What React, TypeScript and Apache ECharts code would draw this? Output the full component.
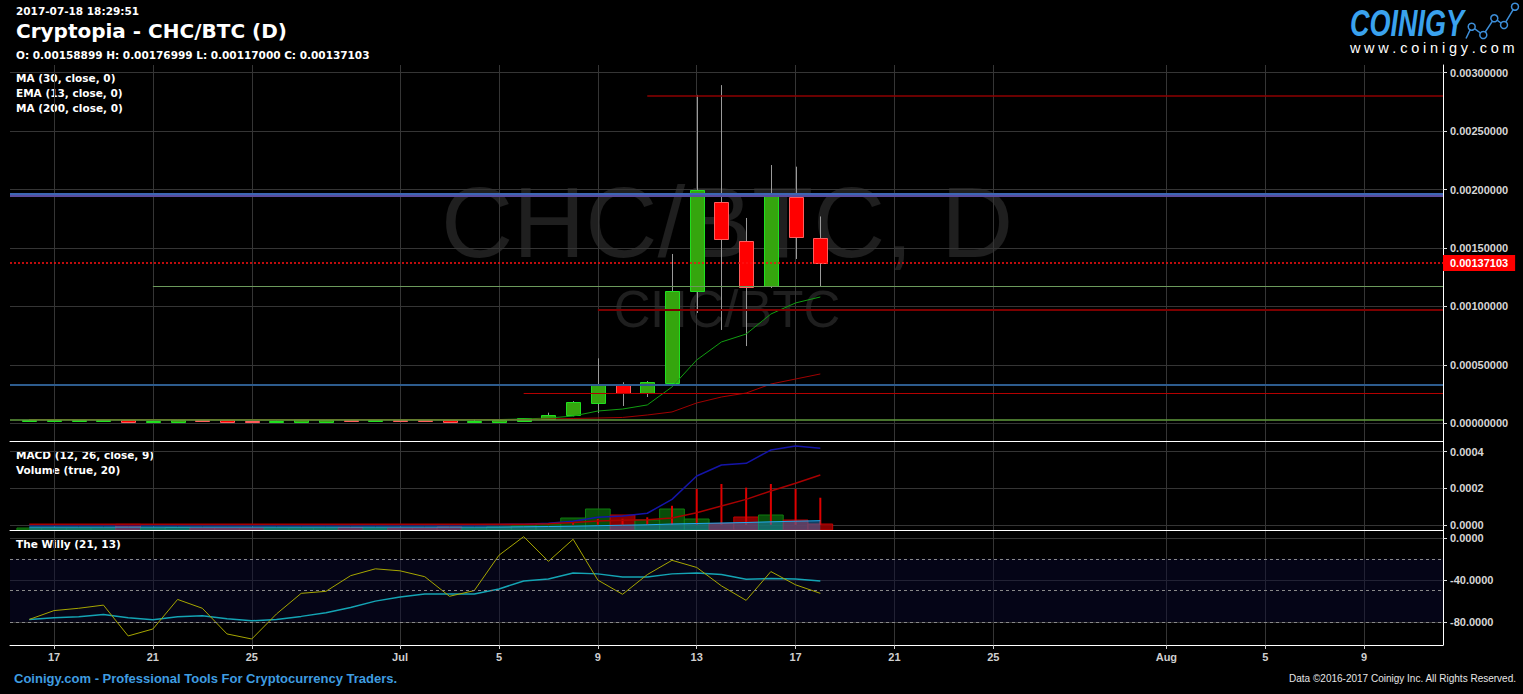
import React, { useEffect, useRef } from 'react';
import * as echarts from 'echarts';

// ---------------- data ----------------
const dates = [
  '2017-06-16', '2017-06-17', '2017-06-18', '2017-06-19', '2017-06-20', '2017-06-21', '2017-06-22', '2017-06-23',
  '2017-06-24', '2017-06-25', '2017-06-26', '2017-06-27', '2017-06-28', '2017-06-29', '2017-06-30',
  '2017-07-01', '2017-07-02', '2017-07-03', '2017-07-04', '2017-07-05', '2017-07-06', '2017-07-07', '2017-07-08',
  '2017-07-09', '2017-07-10', '2017-07-11', '2017-07-12', '2017-07-13', '2017-07-14', '2017-07-15', '2017-07-16',
  '2017-07-17', '2017-07-18',
];

const opens = [
  0.000022, 0.000022, 0.000022, 0.000022, 0.000031, 0.000011, 0.000011, 0.000031, 0.000031, 0.00002, 0.000011,
  0.000011, 0.000011, 0.000031, 0.000022, 0.000031, 0.000031, 0.000031, 0.000011, 0.000011, 0.000022, 0.000037,
  0.000068, 0.000176, 0.000334, 0.000257, 0.000345, 0.001132, 0.001894, 0.001557, 0.001178, 0.001939, 0.00158899,
];
const closes = [
  0.000031, 0.000031, 0.000031, 0.000031, 0.000011, 0.00002, 0.000031, 0.000022, 0.000011, 0.000011, 0.000022,
  0.000034, 0.000031, 0.000022, 0.000031, 0.000022, 0.000022, 0.000011, 0.000022, 0.000031, 0.000045, 0.000071,
  0.00018, 0.000334, 0.000257, 0.000351, 0.001132, 0.001996, 0.001577, 0.001169, 0.001943, 0.001592, 0.00137103,
];
const lows = [
  0.000022, 0.000022, 0.000022, 0.000022, 0.000011, 0.000011, 0.000011, 0.000022, 0.000011, 0.000011, 0.000011,
  0.000011, 0.000011, 0.000022, 0.000022, 0.000022, 0.000022, 0.000011, 0.000011, 0.000011, 0.000022, 0.000037,
  0.00006, 0.000088, 0.000148, 0.000225, 0.000345, 0.000944, 0.000799, 0.000661, 0.001158, 0.001406, 0.00117,
];
const highs = [
  0.000031, 0.000031, 0.000031, 0.000031, 0.000031, 0.00002, 0.000031, 0.000031, 0.000031, 0.00002, 0.000022,
  0.000034, 0.000031, 0.000031, 0.000031, 0.000031, 0.000031, 0.000031, 0.000035, 0.000031, 0.000045, 0.000091,
  0.00019, 0.000556, 0.000351, 0.000362, 0.001449, 0.00281, 0.002894, 0.001757, 0.00221, 0.002196, 0.00176999,
];

const ema13 = [
  0.000032, 0.000032, 0.000032, 0.000032, 0.000032, 0.000031, 0.000031, 0.000032, 0.000031, 0.00003, 0.00003,
  0.000031, 0.000031, 0.000032, 0.000032, 0.000032, 0.000032, 0.000031, 0.000031, 0.000032, 0.000037, 0.000045,
  0.000062, 0.000105, 0.000122, 0.000157, 0.000311, 0.000542, 0.000696, 0.000764, 0.000935, 0.00103, 0.001081,
];
const ma30 = [
  0.00003, 0.00003, 0.00003, 0.00003, 0.00003, 0.00003, 0.00003, 0.00003, 0.00003, 0.00003, 0.00003,
  0.00003, 0.00003, 0.00003, 0.00003, 0.00003, 0.00003, 0.00003, 0.00003, 0.00003, 0.000032, 0.000037,
  0.000041, 0.000045, 0.00005, 0.000071, 0.000097, 0.000174, 0.000225, 0.000259, 0.000336, 0.000379, 0.000422,
];

const volumes = [
  2, 2, 2, 2, 5.7, 2, 2.5, 2, 2, 2, 2, 2, 2, 2.5, 2,
  2, 2, 3, 2, 3, 4, 6, 12, 21, 15, 10, 21, 11, 6.5, 13, 15, 10, 6,
];
const volumeMA = [
  3, 3, 3, 3, 3, 3, 3, 3, 3, 3, 3, 3, 3, 3, 3,
  3, 3, 3, 3, 3, 3.2, 3.5, 3.8, 4.3, 4.8, 5.2, 6, 6.5, 7, 7.5, 8.2, 8.8, 9.3,
];

const macdLine = [
  0, 0, 0, 0, 0, 0, 0, 0, 0, 0, 0, 0, 0, 0, 0,
  0, 0, 0, 0, 0.000002, 0.000003, 0.000008, 0.000019, 0.000041, 0.000048, 0.000063, 0.000139, 0.000267,
  0.000327, 0.000336, 0.000409, 0.000431, 0.000418,
];
const macdSignal = [
  0.000003, 0.000003, 0.000003, 0.000003, 0.000003, 0.000003, 0.000003, 0.000003, 0.000003, 0.000003, 0.000003,
  0.000003, 0.000003, 0.000003, 0.000003, 0.000003, 0.000003, 0.000003, 0.000003, 0.000003, 0.000003, 0.000006,
  0.000012, 0.000021, 0.000025, 0.000028, 0.000037, 0.000066, 0.000103, 0.000139, 0.000185, 0.000227, 0.000272,
];
const macdHist = [
  0, 0, 0, 0, 0, 0, 0, 0, 0, 0, 0, 0, 0, 0, 0,
  0, 0, 0, 0, 0, 0, 0.000003, 0.00001, 0.000032, 0.000033, 0.000041, 0.000104, 0.000196, 0.000223, 0.000203,
  0.000223, 0.000196, 0.000148,
];

const willyFast = [
  -77.6, -69.2, -67, -64, -93.3, -86.7, -58.6, -67, -91.4, -96.2, -72.4, -52.8, -50.9, -36, -29.5,
  -31.4, -37, -55.6, -50.2, -16.6, 1.1, -22.4, -1.4, -40.2, -53.7, -35, -21.4, -28.2, -45.7, -59.5, -32.1, -44.7, -52.8,
];
const willySlow = [
  -77.6, -76, -75, -73, -76, -78, -75, -74, -77, -78.9, -77.6, -74.7, -71.2, -66.3, -60.2,
  -56.3, -53.4, -53.4, -53.4, -48.6, -41.1, -39.2, -33.4, -34.3, -37.2, -37.2, -34.3, -33.4, -35, -39.5, -38.6, -39.2, -41.1,
];

const xTickDates = [
  '2017-06-17', '2017-06-21', '2017-06-25', '2017-07-01', '2017-07-05', '2017-07-09', '2017-07-13',
  '2017-07-17', '2017-07-21', '2017-07-25', '2017-08-01', '2017-08-05', '2017-08-09',
];
const xTickLabels = ['17', '21', '25', 'Jul', '5', '9', '13', '17', '21', '25', 'Aug', '5', '9'];

const priceTicks = [0, 0.0005, 0.001, 0.0015, 0.002, 0.0025, 0.003];
const macdTicks = [0, 0.0002, 0.0004];
const willyTicks = [0, -40, -80];
const willyBands = [-20, -50, -80];

// drawn horizontal price levels (value, first date or null = full width)
const levelPrices = [0.0028, 0.001965, 0.001947, 0.00117, 0.00097, 0.000334, 0.000257, 0.000034];
const levelStarts = ['2017-07-11', null, null, '2017-06-21', '2017-07-09', null, '2017-07-06', null];

const headerTime = '2017-07-18 18:29:51';
const headerTitle = 'Cryptopia - CHC/BTC (D)';
const indicatorsMain = ['MA (30, close, 0)', 'EMA (13, close, 0)', 'MA (200, close, 0)'];
const indicatorsMacd = ['MACD (12, 26, close, 9)', 'Volume (true, 20)'];
const indicatorsWilly = ['The Willy (21, 13)'];

// ---------------- helpers / styles ----------------
const BASE = Date.UTC(2017, 5, 1);
const toDay = (s: string) => Math.round((Date.parse(s + 'T00:00:00Z') - BASE) / 86400000);
const X_MIN = 14.22;
const X_MAX = 72.19;
const GRID_COLOR = '#353535';
const AXIS_FONT = 'Liberation Sans';
const levelColors = ['#8e0000', '#3c66b4', '#5a4c9e', '#6c9a5c', '#7c0000', '#2d5c8e', '#b40000', '#5f9a3c'];
const levelWidths = [1.5, 2, 2, 1, 2, 2, 1, 1.5];

function buildOption() {
  const tickDays = xTickDates.map(toDay);
  const xLabel = (v: number) => {
    const i = tickDays.indexOf(Math.round(v));
    return i >= 0 ? xTickLabels[i] : '';
  };
  const days = dates.map(toDay);
  const last = closes.length - 1;

  const xAxis = (gi: number, showLabels: boolean) => ({
    type: 'value',
    gridIndex: gi,
    min: X_MIN,
    max: X_MAX,
    axisLine: { show: true, onZero: false, lineStyle: { color: '#ffffff', width: 1 } },
    axisTick: { show: showLabels, length: 4, lineStyle: { color: '#cccccc' }, customValues: tickDays },
    axisLabel: {
      show: showLabels,
      customValues: tickDays,
      formatter: xLabel,
      color: '#cfcfcf',
      fontWeight: 'bold',
      fontSize: 11,
      fontFamily: AXIS_FONT,
      margin: 6,
    },
    splitLine: { show: true, lineStyle: { color: GRID_COLOR, width: 1 } },
  });

  const yAxis = (gi: number, min: number, max: number, ticks: number[], digits: number) => ({
    type: 'value',
    gridIndex: gi,
    position: 'right',
    min,
    max,
    axisLine: { show: true, onZero: false, lineStyle: { color: '#ffffff', width: 1 } },
    axisTick: { show: true, length: 4, lineStyle: { color: '#dddddd' }, customValues: ticks },
    axisLabel: {
      customValues: ticks,
      formatter: (v: number) => v.toFixed(digits),
      color: '#d6d6d6',
      fontWeight: 'bold',
      fontSize: 11,
      fontFamily: AXIS_FONT,
      margin: 7,
    },
    splitLine: { show: true, lineStyle: { color: GRID_COLOR, width: 1 } },
  });

  const levelData: any[] = levelPrices.map((p, i) => {
    const s = levelStarts[i];
    return [
      { coord: [s ? toDay(s) : X_MIN, p], lineStyle: { color: levelColors[i], width: levelWidths[i], type: 'solid' } },
      { coord: [X_MAX, p] },
    ];
  });
  levelData.push([
    {
      coord: [X_MIN, closes[last]],
      lineStyle: { color: '#ff1010', width: 1.6, type: [2, 2], opacity: 1 },
      label: {
        show: true,
        position: 'end',
        distance: 0,
        formatter: () => closes[last].toFixed(8),
        backgroundColor: '#ff0000',
        color: '#ffffff',
        fontWeight: 'bold',
        fontSize: 11,
        fontFamily: AXIS_FONT,
        padding: [3, 7, 2, 7],
      },
    },
    { coord: [X_MAX, closes[last]] },
  ]);

  const text = (x: number, y: number, t: string, font: string, fill: string, align = 'left', extra: any = {}) => ({
    type: 'text',
    x,
    y,
    silent: true,
    ...extra,
    style: { text: t, font, fill, align, verticalAlign: 'middle', textAlign: align, textVerticalAlign: 'middle' },
  });

  // logo website text with wide letter spacing
  const site = 'www.coinigy.com';
  const adv: Record<string, number> = { w: 10.1, '.': 3.9, c: 7, o: 7.8, i: 3.1, n: 7.8, g: 7.8, y: 7, m: 11.7 };
  let sx = 1350;
  const siteChars: any[] = [];
  for (const ch of site) {
    siteChars.push(text(sx, 48, ch, '14.5px "Liberation Sans"', '#ffffff'));
    sx += (adv[ch] || 7) + 4.0;
  }
  const iconPts = [[1466, 38.5], [1471.7, 26.7], [1483.3, 35], [1494.3, 18.3], [1504, 25], [1515, 6.7]];

  const mainFont = 'bold 10.5px "DejaVu Sans"';

  return {
    animation: false,
    backgroundColor: '#000000',
    grid: [
      { left: 10, top: 65, width: 1433, height: 376 },
      { left: 10, top: 441, width: 1433, height: 89 },
      { left: 10, top: 530, width: 1433, height: 115 },
    ],
    xAxis: [xAxis(0, false), xAxis(1, false), xAxis(2, true)],
    yAxis: [
      yAxis(0, -0.0001515, 0.0030661, priceTicks, 8),
      yAxis(1, -0.0000284, 0.000458, macdTicks, 4),
      yAxis(2, -101.9, 7.4, willyTicks, 4),
      { type: 'value', gridIndex: 1, show: false, min: 0, max: 89, splitLine: { show: false } },
    ],
    graphic: [
      text(727, 222, 'CHC/BTC, D', '100px "Liberation Sans"', '#1f1f1f', 'center'),
      text(727, 309, 'CHC/BTC', '51px "Liberation Sans"', '#1f1f1f', 'center'),
      text(16, 11, headerTime, 'bold 10.5px "DejaVu Sans"', '#ffffff'),
      text(16, 31, headerTitle, 'bold 20px "DejaVu Sans"', '#ffffff'),
      text(
        16,
        55,
        `O: ${opens[last].toFixed(8)} H: ${highs[last].toFixed(8)} L: ${lows[last].toFixed(8)} C: ${closes[last].toFixed(8)}`,
        mainFont,
        '#ffffff'
      ),
      ...indicatorsMain.map((t, i) => text(16, 78 + i * 15, t, mainFont, '#ffffff')),
      ...indicatorsMacd.map((t, i) => text(16, 455 + i * 15, t, mainFont, '#ffffff')),
      ...indicatorsWilly.map((t, i) => text(16, 544 + i * 15, t, mainFont, '#ffffff')),
      text(14, 678, 'Coinigy.com - Professional Tools For Cryptocurrency Traders.', 'bold 13px "Liberation Sans"', '#3f9de0'),
      text(1516, 678, 'Data \u00A92016-2017 Coinigy Inc. All Rights Reserved.', '10px "Liberation Sans"', '#e6e6e6', 'right'),
      text(1350, 23, 'COINIGY', 'italic bold 27px "Liberation Sans"', '#3aa2ee', 'left', { scaleY: 1.38, originY: 0 }),
      ...siteChars,
      {
        type: 'polyline',
        silent: true,
        shape: { points: iconPts },
        style: { stroke: '#3d8ed8', lineWidth: 1.5, fill: 'none' },
      },
      ...iconPts.slice(1).map((p) => ({
        type: 'circle',
        silent: true,
        shape: { cx: p[0], cy: p[1], r: 3.5 },
        style: { fill: '#000000', stroke: '#3d8ed8', lineWidth: 1.5 },
      })),
    ],
    series: [
      {
        type: 'custom',
        name: 'CHC/BTC',
        xAxisIndex: 0,
        yAxisIndex: 0,
        z: 3,
        clip: true,
        data: days.map((d, i) => [d, opens[i], closes[i], lows[i], highs[i]]),
        encode: { x: 0, y: [1, 2, 3, 4] },
        renderItem: (_params: any, api: any) => {
          const x = api.value(0);
          const o = api.value(1);
          const c = api.value(2);
          const pO = api.coord([x, o]);
          const pC = api.coord([x, c]);
          const pL = api.coord([x, api.value(3)]);
          const pH = api.coord([x, api.value(4)]);
          const dayW = api.size([1, 0])[0];
          const bw = Math.round(dayW * 0.58);
          const cx = Math.round(pO[0]);
          const top = Math.round(Math.min(pO[1], pC[1]));
          const bot = Math.round(Math.max(pO[1], pC[1]));
          const up = c >= o;
          return {
            type: 'group',
            children: [
              {
                type: 'line',
                shape: { x1: cx + 0.5, y1: pH[1], x2: cx + 0.5, y2: pL[1] },
                style: { stroke: '#9a9a9a', lineWidth: 1 },
              },
              {
                type: 'rect',
                shape: { x: cx - Math.floor(bw / 2) + 0.5, y: top + 0.5, width: bw, height: Math.max(bot - top, 1) },
                style: { fill: up ? '#35a50e' : '#ff0000', stroke: up ? '#1fe01f' : '#ff5c5c', lineWidth: 1 },
              },
            ],
          };
        },
        markLine: {
          silent: true,
          symbol: ['none', 'none'],
          label: { show: false },
          data: levelData,
        },
      },
      {
        type: 'line',
        name: 'EMA 13',
        xAxisIndex: 0,
        yAxisIndex: 0,
        showSymbol: false,
        data: days.map((d, i) => [d, ema13[i]]),
        lineStyle: { color: '#119d11', width: 1 },
        z: 4,
      },
      {
        type: 'line',
        name: 'MA 30',
        xAxisIndex: 0,
        yAxisIndex: 0,
        showSymbol: false,
        data: days.map((d, i) => [d, ma30[i]]),
        lineStyle: { color: '#a00000', width: 1 },
        z: 4,
      },
      {
        type: 'custom',
        name: 'Volume',
        xAxisIndex: 1,
        yAxisIndex: 3,
        clip: true,
        data: days.map((d, i) => [d, volumes[i], closes[i] >= opens[i] ? 1 : 0]),
        encode: { x: 0, y: 1 },
        renderItem: (_params: any, api: any) => {
          const x = api.value(0);
          const v = api.value(1);
          const up = api.value(2) === 1;
          const p0 = api.coord([x - 0.5, 0]);
          const p1 = api.coord([x + 0.5, v]);
          return {
            type: 'rect',
            shape: { x: p0[0], y: p1[1], width: p1[0] - p0[0], height: p0[1] - p1[1] },
            style: {
              fill: up ? 'rgba(10,90,10,0.85)' : 'rgba(150,0,0,0.9)',
              stroke: up ? '#0f7d0f' : '#c00000',
              lineWidth: 1,
            },
          };
        },
      },
      {
        type: 'line',
        name: 'Volume MA',
        xAxisIndex: 1,
        yAxisIndex: 3,
        showSymbol: false,
        data: days.map((d, i) => [d, volumeMA[i]]),
        lineStyle: { color: '#22aaf0', width: 1 },
        areaStyle: { color: 'rgba(35,145,225,0.62)', origin: 'start' },
      },
      {
        type: 'bar',
        name: 'Histogram',
        xAxisIndex: 1,
        yAxisIndex: 1,
        barWidth: 2,
        data: days.map((d, i) => [d, macdHist[i]]),
        itemStyle: { color: '#dd0000' },
      },
      {
        type: 'line',
        name: 'MACD',
        xAxisIndex: 1,
        yAxisIndex: 1,
        showSymbol: false,
        data: days.map((d, i) => [d, macdLine[i]]),
        lineStyle: { color: '#1414a8', width: 1.5 },
      },
      {
        type: 'line',
        name: 'Signal',
        xAxisIndex: 1,
        yAxisIndex: 1,
        showSymbol: false,
        data: days.map((d, i) => [d, macdSignal[i]]),
        lineStyle: { color: '#a80000', width: 1.5 },
      },
      {
        type: 'line',
        name: 'Willy slow',
        xAxisIndex: 2,
        yAxisIndex: 2,
        showSymbol: false,
        data: days.map((d, i) => [d, willySlow[i]]),
        lineStyle: { color: '#14a4b4', width: 1.5 },
        markArea: {
          silent: true,
          itemStyle: { color: 'rgba(10,10,52,0.45)' },
          data: [[{ yAxis: willyBands[0] }, { yAxis: willyBands[2] }]],
        },
        markLine: {
          silent: true,
          symbol: ['none', 'none'],
          label: { show: false },
          lineStyle: { color: '#8a8a8a', width: 1, type: [3, 3] },
          data: willyBands.map((b) => ({ yAxis: b })),
        },
      },
      {
        type: 'line',
        name: 'Willy fast',
        xAxisIndex: 2,
        yAxisIndex: 2,
        showSymbol: false,
        data: days.map((d, i) => [d, willyFast[i]]),
        lineStyle: { color: '#a6a600', width: 1 },
      },
    ],
  };
}

export default function App() {
  const ref = useRef<HTMLDivElement>(null);
  useEffect(() => {
    if (!ref.current) return;
    const chart = echarts.init(ref.current, null, { renderer: 'svg' });
    chart.setOption(buildOption() as any);
    return () => chart.dispose();
  }, []);
  return (
    <div
      ref={ref}
      style={{ position: 'absolute', left: 0, top: 0, width: 1523, height: 694, background: '#000' }}
    />
  );
}
